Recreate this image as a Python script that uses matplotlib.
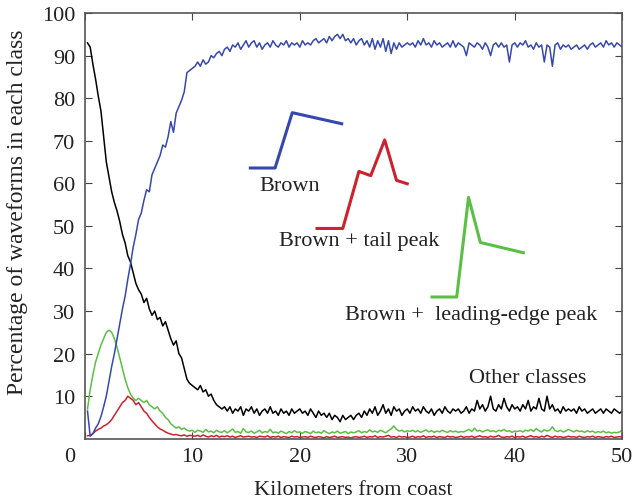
import numpy as np
import matplotlib
matplotlib.use("Agg")
import matplotlib.pyplot as plt
from matplotlib.transforms import ScaledTranslation

plt.rcParams['font.family'] = ['Liberation Serif', 'DejaVu Serif']

# distance grid (km), one sample every 0.25 km
km = np.arange(1, 201) * 0.25

brown = [
    6.5, 0.6, 1.2, 2.5, 3.5, 5.2, 7.5, 10, 13.5, 17, 20, 23.5, 27, 30.5, 33.5, 37.5, 41, 45, 48, 51.5,
    53, 56, 58.5, 58, 62, 63.5, 65, 66.5, 69, 68.5, 71, 74.5, 72, 76.5, 78, 79.5, 81.5, 86, 86.5, 87,
    87.5, 88.5, 87.5, 89, 88, 88.5, 90, 89.5, 90.5, 91, 90, 91.5, 92, 91, 92.5, 92, 93, 91.5, 92.5, 93.5,
    92, 93, 93.5, 92, 93, 91.5, 92.5, 93, 92, 93.5, 92.5, 92, 93, 92.5, 93.5, 92, 93, 92.5, 93, 92,
    93.5, 92.5, 93, 92.5, 93.5, 94, 93, 93.5, 94, 93, 94.5, 93.5, 94.5, 95, 94, 95, 93.5, 94, 93, 94,
    92.5, 93.5, 94, 92.5, 93.5, 92, 94, 91.5, 93.5, 92, 94, 91, 93.5, 90.5, 93, 91.5, 93, 92, 92.5, 93,
    92.5, 93, 92, 93.5, 92.5, 94, 92.5, 93, 92, 93.5, 92.5, 93, 92, 92.5, 93, 92, 93.5, 92, 93, 92.5,
    92, 90, 93, 92.5, 92, 93, 92.5, 91.5, 93, 92, 90, 92.5, 93, 92, 93, 92, 92.5, 88.5, 92.5, 93,
    92, 93, 92.5, 93.5, 92, 92.5, 91.5, 93, 92, 92.5, 88.5, 92.5, 92, 87.5, 92.5, 93, 91.5, 92.5, 92, 92.5,
    91.5, 92, 92.5, 91.5, 92, 92.5, 91.5, 92.5, 93, 92, 92.5, 93, 92, 93.5, 92.5, 93, 92, 93, 92.5, 92,
]

other = [
    93, 92, 88, 84.5, 80.5, 77, 71, 65, 61.5, 58, 55.5, 53.5, 51, 48, 46, 43, 41.5, 39, 36.5, 35,
    34, 32, 33, 30.5, 29, 30, 28, 28.5, 26.5, 27.5, 25.5, 23.5, 22, 23, 20, 19, 16.5, 14, 13, 12.5,
    12, 11.5, 12.5, 11, 11.5, 10, 10.5, 9, 8, 7.5, 7, 7.5, 6.5, 7.5, 6, 7, 6.5, 7.5, 5.5, 7,
    6.5, 7.5, 6, 7, 5.5, 6.5, 7, 6, 7.5, 6, 6.5, 5.5, 7, 6, 6.5, 5.5, 7, 6, 6.5, 7,
    6, 6.5, 5.5, 7, 6, 5, 6.5, 5.5, 6, 5, 6, 4.5, 5.5, 5, 4, 5.5, 4.5, 5, 5.5, 4.5,
    5.5, 6, 5, 6.5, 5.5, 7, 6, 7.5, 5.5, 6.5, 8, 6, 7, 5.5, 7.5, 6.5, 7, 5.5, 6.5, 7,
    6, 7.5, 6.5, 7, 6, 7.5, 6.5, 6, 7, 5.5, 6.5, 7, 6, 7.5, 6.5, 6, 7, 6.5, 7, 6,
    6.5, 7.5, 6, 7, 6.5, 9, 7, 8, 6.5, 7.5, 10, 7, 6.5, 8, 7, 9.5, 7.5, 6.5, 8, 7,
    7.5, 6.5, 8, 7, 9, 6.5, 7.5, 7, 9.5, 7, 6.5, 10, 7, 8, 6.5, 7, 6, 7.5, 6.5, 7,
    6.5, 7, 6, 7.5, 6.5, 7, 6, 6.5, 7, 6, 6.5, 7, 6, 7, 6.5, 6, 7, 6.5, 6, 6.5,
]

leading = [
    7, 11.5, 15, 18, 20, 22, 23.5, 25, 25.5, 25, 23.5, 21.5, 19, 16.5, 14, 12, 10.5, 9.5, 9, 9.5,
    9, 8.5, 9, 8, 7.5, 7, 7.5, 6.5, 6, 5, 4.5, 3.5, 3, 2.5, 2.8, 2.2, 2.5, 2, 1.8, 2,
    1.5, 2, 1.8, 1.5, 2.2, 1.6, 1.8, 1.4, 2, 1.6, 1.5, 1.9, 1.4, 1.8, 2.3, 1.5, 1.7, 1.3, 2.4, 1.6,
    1.5, 1.8, 1.3, 1.6, 2, 1.4, 1.7, 1.5, 2.2, 1.4, 1.6, 1.3, 1.8, 1.5, 1.2, 1.7, 1.4, 1.9, 1.5, 1.6,
    1.3, 1.7, 1.5, 1.2, 1.8, 1.4, 1.6, 1.3, 1.9, 1.5, 1.2, 1.6, 1.4, 1.8, 1.3, 1.5, 1.7, 1.2, 1.6, 1.4,
    1.6, 1.9, 1.4, 1.7, 1.5, 2.1, 1.6, 1.8, 1.5, 2, 1.7, 1.4, 1.9, 2.3, 3, 2.2, 1.8, 2, 1.6, 1.9,
    1.7, 2, 1.6, 1.9, 1.5, 1.8, 2.1, 1.6, 1.9, 1.5, 1.8, 1.6, 2, 1.7, 1.5, 1.9, 1.6, 1.8, 1.5, 1.7,
    1.6, 1.9, 2.2, 1.7, 2.5, 1.8, 2, 1.6, 1.9, 2.1, 1.7, 1.9, 1.6, 2, 1.8, 2.2, 1.7, 1.9, 1.5, 1.8,
    1.7, 1.9, 1.6, 2, 1.8, 2.2, 1.7, 2.4, 1.9, 1.6, 2.1, 1.8, 2, 2.8, 1.9, 1.7, 2, 1.6, 1.8, 2.2,
    1.9, 1.6, 2, 1.7, 1.8, 1.5, 1.9, 1.6, 1.8, 1.4, 1.7, 1.5, 1.8, 1.4, 1.6, 1.3, 1.5, 1.4, 1.6, 2,
]

tail = [
    0.7, 0.8, 1.2, 1.8, 2.2, 2.5, 3, 3.3, 3.8, 4.5, 5.5, 6.5, 7.5, 8.5, 9, 10, 9.5, 9, 8, 8.5,
    7.5, 6.5, 6, 5, 4.2, 3.5, 2.8, 2.3, 2, 1.6, 1.3, 1.1, 0.9, 1, 0.8, 0.7, 0.9, 0.6, 0.8, 0.7,
    0.6, 0.8, 0.5, 0.9, 0.6, 0.4, 0.7, 0.5, 0.8, 0.4, 0.6, 0.5, 0.7, 0.4, 0.6, 0.3, 0.5, 0.7, 0.4, 0.5,
    0.6, 0.4, 0.5, 0.3, 0.6, 0.5, 0.4, 0.7, 0.3, 0.5, 0.4, 0.6, 0.3, 0.5, 0.4, 0.3, 0.6, 0.4, 0.5, 0.3,
    0.4, 0.5, 0.3, 0.6, 0.4, 0.3, 0.5, 0.4, 0.2, 0.5, 0.3, 0.4, 0.6, 0.3, 0.4, 0.5, 0.3, 0.4, 0.2, 0.4,
    0.5, 0.3, 0.4, 0.6, 0.3, 0.5, 0.4, 0.7, 0.3, 0.5, 0.4, 0.6, 0.8, 0.4, 0.5, 0.3, 0.6, 0.4, 0.5, 0.3,
    0.4, 0.6, 0.3, 0.5, 0.4, 0.7, 0.3, 0.5, 0.4, 0.6, 0.3, 0.5, 0.4, 0.3, 0.6, 0.4, 0.5, 0.3, 0.4, 0.6,
    0.3, 0.5, 0.4, 0.6, 0.3, 0.5, 0.7, 0.4, 0.5, 0.3, 0.6, 0.4, 0.5, 0.8, 0.4, 0.3, 0.5, 0.4, 0.6, 0.3,
    0.5, 0.4, 0.6, 0.3, 0.5, 0.7, 0.4, 0.5, 0.3, 0.6, 0.4, 0.8, 0.5, 0.3, 0.6, 0.4, 0.5, 0.3, 0.4, 0.6,
    0.4, 0.5, 0.3, 0.6, 0.4, 0.3, 0.5, 0.4, 0.6, 0.3, 0.5, 0.4, 0.3, 0.5, 0.4, 0.6, 0.3, 0.4, 0.5, 0.4,
]

# little waveform sketches (x in km, y in %)
icon_brown_x = [15.4, 17.7, 19.3, 23.9]
icon_brown_y = [63.6, 63.6, 76.6, 74.0]
icon_tail_x = [21.6, 24.0, 25.5, 26.6, 27.9, 29.0, 30.0]
icon_tail_y = [49.4, 49.4, 62.8, 61.8, 70.2, 60.7, 59.9]
icon_lead_x = [32.3, 34.6, 35.7, 36.8, 40.8]
icon_lead_y = [33.3, 33.3, 56.7, 46.1, 43.7]

blue = '#3748ad'
red = '#cc2230'
green = '#5cbf45'

fig = plt.figure(figsize=(6.33, 5.02), dpi=100)
ax = fig.add_axes([0.134, 0.124, 0.849, 0.848])

ax.plot(km, other, color='black', lw=1.1)
ax.plot(km, leading, color=green, lw=1.1)
ax.plot(km, tail, color=red, lw=1.1)
ax.plot(km, brown, color=blue, lw=1.1)

ax.plot(icon_brown_x, icon_brown_y, color=blue, lw=2.2)
ax.plot(icon_tail_x, icon_tail_y, color=red, lw=2.2)
ax.plot(icon_lead_x, icon_lead_y, color=green, lw=2.2)

ax.text(16.2, 59.6, 'Brown', fontsize=16, va='center', ha='left', color='#222222')
ax.text(18.1, 46.5, 'Brown + tail peak', fontsize=16, va='center', ha='left', color='#222222')
ax.text(24.2, 29.3, 'Brown +  leading-edge peak', fontsize=16, va='center', ha='left', color='#222222')
ax.text(35.7, 14.3, 'Other classes', fontsize=16, va='center', ha='left', color='#222222')

ax.set_xlim(0, 50)
ax.set_ylim(0, 100)
ax.set_xticks([0, 10, 20, 30, 40, 50])
ax.set_yticks([10, 20, 30, 40, 50, 60, 70, 80, 90, 100])
ax.tick_params(direction='in', top=True, right=True, length=5, width=0.8,
               labelsize=16, colors='#444444', labelcolor='#222222')
ax.tick_params(axis='x', pad=6)
ax.tick_params(axis='y', pad=7)
# the origin "0" sits left of the corner
zero_lbl = ax.get_xticklabels()[0]
zero_lbl.set_transform(zero_lbl.get_transform() + ScaledTranslation(-15 / 100, 0, fig.dpi_scale_trans))

for s in ax.spines.values():
    s.set_color('#555555')
    s.set_linewidth(1.2)

ax.set_xlabel('Kilometers from coast', fontsize=16, color='#222222', labelpad=10)
ax.set_ylabel('Percentage of waveforms in each class', fontsize=17, color='#222222')
ax.yaxis.set_label_coords(-0.105, 0.535)

fig.savefig('out.png', dpi=100)
